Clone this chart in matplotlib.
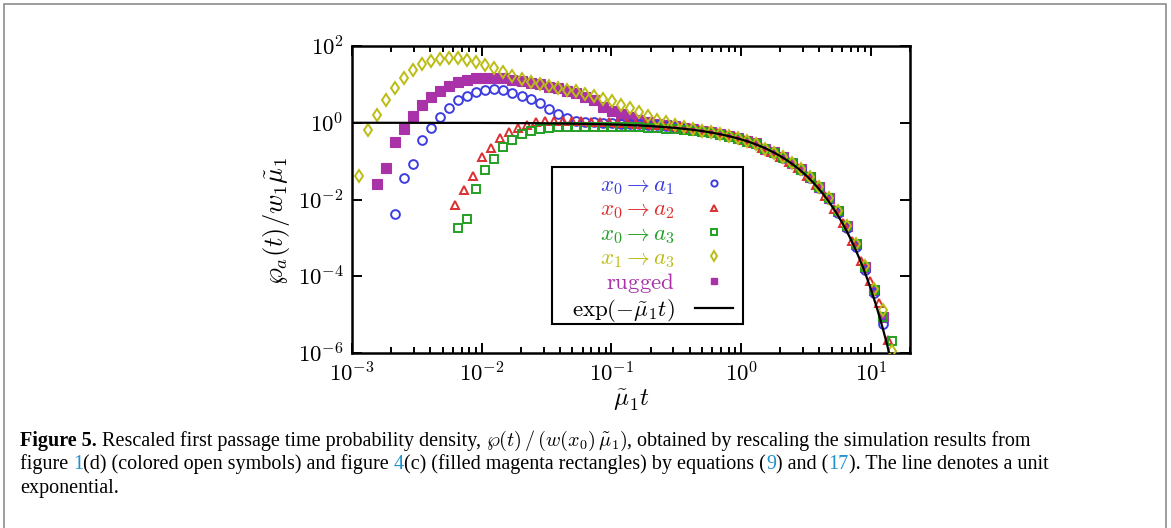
import numpy as np
import matplotlib
matplotlib.use("Agg")
import matplotlib.pyplot as plt
from matplotlib.lines import Line2D
from matplotlib.patches import Rectangle

plt.rcParams['mathtext.fontset'] = 'cm'
plt.rcParams['font.family'] = 'serif'
plt.rcParams['font.serif'] = ['DejaVu Serif']

# simulation time grid (rescaled), same sampling for every data set
t_grid = np.logspace(-2.946, 1.16, 60)
red_time_factor = 0.944   # red set sits a bit to the left after rescaling

# log10 of rescaled density; first index into t_grid
blue_start = 4
blue_log = [-2.368, -1.428, -1.08, -0.446, -0.124, 0.162, 0.397, 0.58, 0.71, 0.795,
            0.851, 0.869, 0.843, 0.78, 0.702, 0.608, 0.504, 0.363, 0.232, 0.12,
            0.05, 0.024, 0.008, 0.0, -0.01, -0.02, -0.03, -0.04, -0.055, -0.07,
            -0.09, -0.115, -0.14, -0.17, -0.205, -0.245, -0.29, -0.34, -0.405, -0.48,
            -0.55, -0.68, -0.79, -0.92, -1.06, -1.235, -1.43, -1.695, -1.99, -2.345,
            -2.745, -3.23, -3.83, -4.44, -5.24]

red_start = 11
red_log = [-2.151, -1.742, -1.386, -0.882, -0.671, -0.41, -0.245, -0.135, -0.046, 0.01,
           0.043, 0.056, 0.056, 0.05, 0.04, 0.03, 0.02, 0.01, 0.0, -0.01,
           -0.02, -0.035, -0.05, -0.07, -0.09, -0.115, -0.145, -0.18, -0.22, -0.26,
           -0.31, -0.37, -0.44, -0.53, -0.655, -0.76, -0.885, -1.02, -1.19, -1.375,
           -1.63, -1.91, -2.24, -2.62, -3.07, -3.6, -4.12, -4.7, -5.65]

green_start = 11
green_log = [-2.744, -2.517, -1.717, -1.23, -0.943, -0.637, -0.454, -0.306, -0.219, -0.159,
             -0.133, -0.115, -0.107, -0.1, -0.1, -0.1, -0.1, -0.1, -0.105, -0.11,
             -0.115, -0.125, -0.135, -0.15, -0.165, -0.185, -0.21, -0.24, -0.275, -0.315,
             -0.36, -0.42, -0.49, -0.545, -0.675, -0.78, -0.91, -1.05, -1.22, -1.415,
             -1.675, -1.96, -2.31, -2.70, -3.17, -3.76, -4.36, -5.05, -5.69]

yellow_start = 0
yellow_log = [-1.386, -0.193, 0.213, 0.582, 0.903, 1.172, 1.366, 1.522, 1.608, 1.668,
              1.695, 1.68, 1.634, 1.574, 1.504, 1.416, 1.32, 1.224, 1.138, 1.06,
              1.016, 0.963, 0.911, 0.859, 0.817, 0.747, 0.695, 0.624, 0.572, 0.475,
              0.389, 0.285, 0.17, 0.083, 0.013, -0.055, -0.117, -0.159, -0.204, -0.248,
              -0.29, -0.334, -0.404, -0.483, -0.543, -0.672, -0.777, -0.905, -1.043, -1.215,
              -1.405, -1.665, -1.95, -2.3, -2.69, -3.16, -3.74, -4.34, -4.87, -5.96]

rugged_start = 2
rugged_log = [-1.585, -1.167, -0.499, -0.168, 0.188, 0.465, 0.676, 0.833, 0.955, 1.06,
              1.104, 1.16, 1.172, 1.172, 1.155, 1.12, 1.078, 1.04, 1.0, 0.937,
              0.895, 0.833, 0.765, 0.676, 0.59, 0.42, 0.313, 0.227, 0.14, 0.07,
              0.026, -0.02, -0.057, -0.091, -0.13, -0.165, -0.205, -0.25, -0.29, -0.335,
              -0.4, -0.48, -0.54, -0.672, -0.775, -0.905, -1.045, -1.215, -1.41, -1.67,
              -1.955, -2.3, -2.695, -3.17, -3.75, -4.35, -5.07]

labels = [r'$x_0 \rightarrow a_1$', r'$x_0 \rightarrow a_2$', r'$x_0 \rightarrow a_3$',
          r'$x_1 \rightarrow a_3$', r'$\mathrm{rugged}$', r'$\exp(-\tilde{\mu}_1 t)$']
xticks = [1e-3, 1e-2, 1e-1, 1e0, 1e1]
xticklabels = [r'$10^{-3}$', r'$10^{-2}$', r'$10^{-1}$', r'$10^{0}$', r'$10^{1}$']
yticks = [1e-6, 1e-4, 1e-2, 1e0, 1e2]
yticklabels = [r'$10^{-6}$', r'$10^{-4}$', r'$10^{-2}$', r'$10^{0}$', r'$10^{2}$']

c_blue = '#3c3ce0'
c_red = '#dc3030'
c_green = '#24a024'
c_yellow = '#bcbc14'
c_mag = '#a932a9'
c_link = '#2090d0'

W, H = 1171, 528
fig = plt.figure(figsize=(W / 100, H / 100), dpi=100)
ax = fig.add_axes([352 / W, 1 - 353 / H, (910 - 352) / W, (353 - 46) / H])


def series(start, vals, factor=1.0):
    t = t_grid[start:start + len(vals)] * factor
    return t, 10.0 ** np.array(vals)


t, y = series(rugged_start, rugged_log)
ax.plot(t, y, 's', ms=6.6, color=c_mag, mec=c_mag, mew=0.8, zorder=2)
t, y = series(blue_start, blue_log)
ax.plot(t, y, 'o', ms=6.3, mfc='none', mec=c_blue, mew=1.4, zorder=3)
t, y = series(red_start, red_log, red_time_factor)
ax.plot(t, y, '^', ms=6.0, mfc='none', mec=c_red, mew=1.4, zorder=3)
t, y = series(green_start, green_log)
ax.plot(t, y, 's', ms=6.0, mfc='none', mec=c_green, mew=1.4, zorder=4)
t, y = series(yellow_start, yellow_log)
ax.plot(t, y, 'd', ms=6.5, mfc='none', mec=c_yellow, mew=1.4, zorder=5)

tl = np.logspace(-3, np.log10(14.5), 400)
ax.plot(tl, np.exp(-tl), color='black', lw=1.6, zorder=6)

ax.set_xscale('log')
ax.set_yscale('log')
ax.set_xlim(1e-3, 20)
ax.set_ylim(1e-6, 1e2)
ax.set_xticks(xticks)
ax.set_xticklabels(xticklabels, fontsize=16.5)
ax.set_yticks(yticks)
ax.set_yticklabels(yticklabels, fontsize=16.5)
ax.yaxis.set_minor_locator(matplotlib.ticker.NullLocator())
ax.tick_params(which='both', direction='in', top=True, right=True, width=1.4)
ax.tick_params(which='major', length=7)
ax.tick_params(axis='x', which='major', pad=7)
ax.tick_params(axis='y', which='major', pad=6)
ax.tick_params(which='minor', length=4)
for s in ax.spines.values():
    s.set_linewidth(1.8)

ax.set_xlabel(r'$\tilde{\mu}_1 t$', fontsize=18, labelpad=0)
ax.set_ylabel(r'$\wp_a(t)/w_1\tilde{\mu}_1$', fontsize=19)
ax.yaxis.set_label_coords(-0.108, 0.43)

# legend: markers on the right, coloured labels, plain square frame
ax.add_patch(Rectangle((0.358, 0.0945), 0.7007 - 0.358, 0.6068 - 0.0945,
                       transform=ax.transAxes, fill=True, fc='white', ec='black',
                       lw=1.5, zorder=7))
handles = [
    Line2D([], [], ls='none', marker='o', ms=4.5, mfc='none', mec=c_blue, mew=1.4),
    Line2D([], [], ls='none', marker='^', ms=4.5, mfc='none', mec=c_red, mew=1.4),
    Line2D([], [], ls='none', marker='s', ms=4.5, mfc='none', mec=c_green, mew=1.4),
    Line2D([], [], ls='none', marker='d', ms=4.8, mfc='none', mec=c_yellow, mew=1.4),
    Line2D([], [], ls='none', marker='s', ms=5.0, color=c_mag),
    Line2D([], [], color='black', lw=1.6),
]
leg = ax.legend(handles, labels, loc='upper right', bbox_to_anchor=(0.6828, 0.582),
                markerfirst=False, fontsize=16.5, frameon=False, handlelength=1.65,
                handletextpad=0.9, labelspacing=0.06, borderpad=0, borderaxespad=0)
leg.set_zorder(8)
for txt, col in zip(leg.get_texts(), [c_blue, c_red, c_green, c_yellow, c_mag, 'black']):
    txt.set_color(col)

# outer frame of the figure panel
fig.add_artist(Rectangle((4 / W, -0.02), (1166 - 4) / W, 1.02 - 4 / H,
                         transform=fig.transFigure, fill=False, ec='#8c8c8c', lw=1.2))

# caption
cap_size = 14.5
renderer = fig.canvas.get_renderer()


def put_line(pieces, x_px, y_px):
    x = x_px
    for s, col, wt in pieces:
        tx = fig.text(x / W, 1 - y_px / H, s, color=col, fontweight=wt, fontsize=cap_size,
                      family='Liberation Serif', va='baseline', ha='left')
        bb = tx.get_window_extent(renderer)
        x = bb.x1


cap1 = [('Figure 5.', 'black', 'bold'),
        (' Rescaled first passage time probability density, ', 'black', 'normal'),
        (r'$\wp(t)\,/\,(w(x_0)\,\tilde{\mu}_1)$', 'black', 'normal'),
        (', obtained by rescaling the simulation results from', 'black', 'normal')]
cap2 = [('figure ', 'black', 'normal'), ('1', c_link, 'normal'),
        ('(d) (colored open symbols) and figure ', 'black', 'normal'), ('4', c_link, 'normal'),
        ('(c) (filled magenta rectangles) by equations (', 'black', 'normal'),
        ('9', c_link, 'normal'), (') and (', 'black', 'normal'), ('17', c_link, 'normal'),
        ('). The line denotes a unit', 'black', 'normal')]
cap3 = [('exponential.', 'black', 'normal')]

put_line(cap1, 20, 446)
put_line(cap2, 20, 469)
put_line(cap3, 20, 493)

fig.savefig('out.png', dpi=100)
